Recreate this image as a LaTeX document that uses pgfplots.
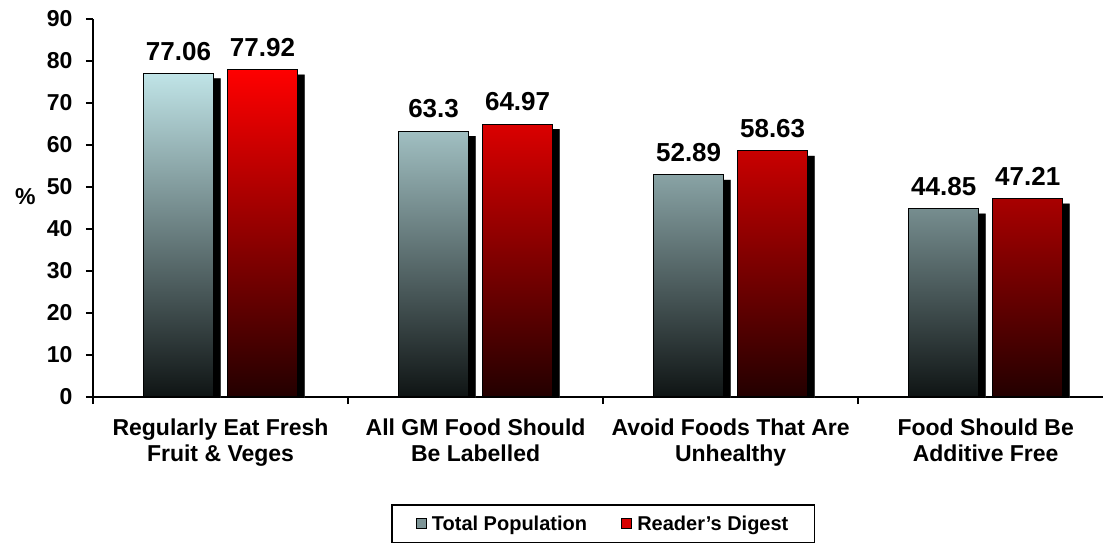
\documentclass[border=0pt]{standalone}
\usepackage{pgfplots}
\pgfplotsset{compat=1.18}
\usepackage{fontspec}
\setmainfont{Liberation Sans}
\usetikzlibrary{shadows}

\definecolor{popTop}{RGB}{192,228,231}
\definecolor{popBot}{RGB}{15,20,20}
\definecolor{rdTop}{RGB}{255,0,0}
\definecolor{rdBot}{RGB}{35,0,0}

\begin{document}
\begin{tikzpicture}
\useasboundingbox (0,0) rectangle (1103pt,542pt);
\begin{axis}[
at={(93pt,145pt)}, anchor=south west,
scale only axis,
width=1010pt, height=378pt,
xmin=-0.5, xmax=3.46,
ymin=0, ymax=90,
axis lines*=left,
axis line style={line width=2.2pt},
ybar, bar width=70pt,
tick align=outside,
major tick length=7pt,
tick style={black, line width=1.8pt},
ytick={0,10,...,90},
yticklabel style={font=\fontsize{23}{23}\bfseries, xshift=-10pt},
/pgf/number format/assume math mode=true,
xtick={-0.5,0.5,1.5,2.5},
xticklabels={,,,},
extra x ticks={0,1,2,3},
extra x tick style={major tick length=0pt},
extra x tick labels={{Regularly Eat Fresh\\Fruit \& Veges},{All GM Food Should\\Be Labelled},{Avoid Foods That Are\\Unhealthy},{Food Should Be\\Additive Free}},
xticklabel style={align=center, font=\fontsize{23}{26}\bfseries, yshift=-18pt},
ylabel={\%},
ylabel style={rotate=-90, at={(axis description cs:-0.067,0.53)}, anchor=center, font=\fontsize{23}{23}\bfseries},
nodes near coords,
point meta=explicit symbolic,
nodes near coords style={font=\fontsize{26}{26}\bfseries, black, yshift=9pt},
legend style={at={(axis description cs:0.505,-0.335)}, anchor=center,
  draw=black, line width=1.8pt, legend columns=2,
  font=\fontsize{20}{20}\bfseries, inner xsep=24pt, inner ysep=9pt,
  /tikz/every odd column/.append style={column sep=3pt},
  /tikz/every even column/.append style={column sep=32pt}},
barshadow/.style={drop shadow={shadow xshift=7pt, shadow yshift=-5pt, opacity=1, top color=black, bottom color=black, draw=none}},
]
\addlegendimage{legend image code/.code={\draw[black, line width=1.2pt, fill=popTop!65!black] (0pt,-5pt) rectangle (10pt,5pt);}}
\addlegendentry{Total Population}
\addlegendimage{legend image code/.code={\draw[black, line width=1.2pt, fill=rdTop!85!black] (0pt,-5pt) rectangle (10pt,5pt);}}
\addlegendentry{Reader's Digest}
\addplot[forget plot, bar shift=-42pt, draw=black, line width=1.2pt, top color=popTop, bottom color=popBot, barshadow]
coordinates {(0,77.06)[77.06] (1,63.3)[63.3] (2,52.89)[52.89] (3,44.85)[44.85]};
\addplot[forget plot, bar shift=42pt, draw=black, line width=1.2pt, top color=rdTop, bottom color=rdBot, barshadow]
coordinates {(0,77.92)[77.92] (1,64.97)[64.97] (2,58.63)[58.63] (3,47.21)[47.21]};
\end{axis}
\end{tikzpicture}
\end{document}
